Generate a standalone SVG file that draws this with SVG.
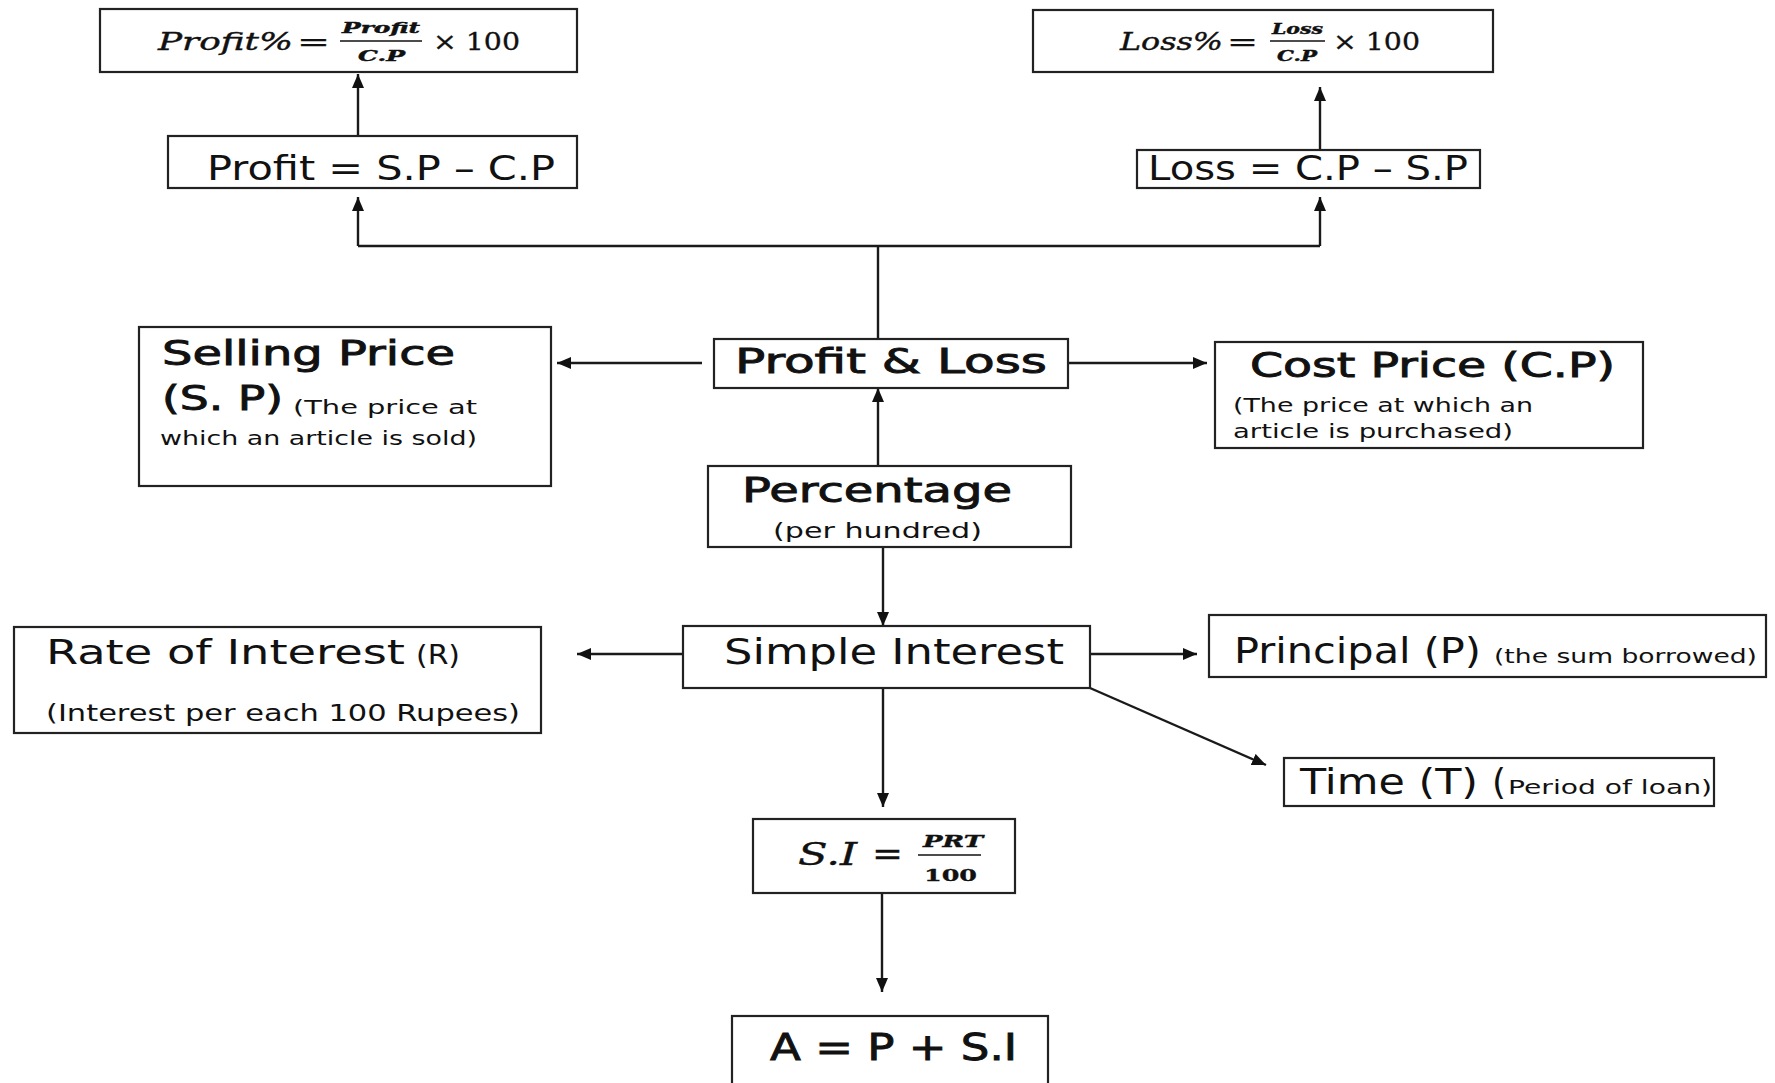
<svg xmlns="http://www.w3.org/2000/svg" width="1775" height="1083" viewBox="0 0 1775 1083">
<style>
  .box{fill:#fff;stroke:#222;stroke-width:2.2}
  .ln{fill:none;stroke:#1a1a1a;stroke-width:2.4}
  .hand{font-family:"DejaVu Sans","Noto Sans",sans-serif;fill:#111}
  .hb{font-family:"DejaVu Sans","Noto Sans",sans-serif;fill:#111;stroke:#111;stroke-width:0.9}
  .mi{font-family:"DejaVu Serif","Liberation Serif",serif;font-style:italic;fill:#111;stroke:#111;stroke-width:0.4}
  .mr{font-family:"DejaVu Serif","Liberation Serif",serif;fill:#111;stroke:#111;stroke-width:0.3}
  .frac{stroke:#111;stroke-width:1.6}
</style>
<defs>
  <marker id="ah" viewBox="0 0 14 12" refX="14" refY="6" markerWidth="14" markerHeight="12" markerUnits="userSpaceOnUse" orient="auto">
    <path d="M0,0 L14,6 L0,12 z" fill="#111"/>
  </marker>
</defs>
<rect width="1775" height="1083" fill="#fff"/>

<g id="connectors">
  <path class="ln" d="M878,339 V246"/>
  <path class="ln" d="M358,246 H1320"/>
  <path class="ln" d="M358,246 V197" marker-end="url(#ah)"/>
  <path class="ln" d="M1320,246 V197" marker-end="url(#ah)"/>
  <path class="ln" d="M358,136 V74" marker-end="url(#ah)"/>
  <path class="ln" d="M1320,150 V87" marker-end="url(#ah)"/>
  <path class="ln" d="M702,363 H557" marker-end="url(#ah)"/>
  <path class="ln" d="M1068,363 H1207" marker-end="url(#ah)"/>
  <path class="ln" d="M878,466 V388" marker-end="url(#ah)"/>
  <path class="ln" d="M883,547 V626" marker-end="url(#ah)"/>
  <path class="ln" d="M683,654 H577" marker-end="url(#ah)"/>
  <path class="ln" d="M1090,654 H1197" marker-end="url(#ah)"/>
  <path class="ln" d="M1090,688 L1266,765" marker-end="url(#ah)"/>
  <path class="ln" d="M883,667 V807" marker-end="url(#ah)"/>
  <path class="ln" d="M882,893 V992" marker-end="url(#ah)"/>
</g>

<g id="profit_pct">
  <rect class="box" x="100" y="9" width="477" height="63"/>
  <text class="mi" x="158" y="50" font-size="25" textLength="135" lengthAdjust="spacingAndGlyphs">Profit%</text>
  <text class="mr" x="297" y="50" font-size="25" textLength="33" lengthAdjust="spacingAndGlyphs">=</text>
  <text class="mi" x="342" y="33" font-size="14" font-weight="bold" textLength="78" lengthAdjust="spacingAndGlyphs">Profit</text>
  <line class="frac" x1="340" y1="41" x2="422" y2="41"/>
  <text class="mi" x="358" y="61" font-size="14" font-weight="bold" textLength="47" lengthAdjust="spacingAndGlyphs">C.P</text>
  <text class="mr" x="433" y="50" font-size="25" textLength="87" lengthAdjust="spacingAndGlyphs">× 100</text>
</g>

<g id="profit_eq">
  <rect class="box" x="168" y="136" width="409" height="52"/>
  <text class="hand" x="207" y="180" font-size="34" textLength="348" lengthAdjust="spacingAndGlyphs">Profit = S.P – C.P</text>
</g>

<g id="loss_pct">
  <rect class="box" x="1033" y="10" width="460" height="62"/>
  <text class="mi" x="1120" y="50" font-size="25" textLength="103" lengthAdjust="spacingAndGlyphs">Loss%</text>
  <text class="mr" x="1227" y="50" font-size="25" textLength="31" lengthAdjust="spacingAndGlyphs">=</text>
  <text class="mi" x="1272" y="34" font-size="14" font-weight="bold" textLength="51" lengthAdjust="spacingAndGlyphs">Loss</text>
  <line class="frac" x1="1270" y1="41" x2="1325" y2="41"/>
  <text class="mi" x="1277" y="61" font-size="14" font-weight="bold" textLength="40" lengthAdjust="spacingAndGlyphs">C.P</text>
  <text class="mr" x="1333" y="50" font-size="25" textLength="87" lengthAdjust="spacingAndGlyphs">× 100</text>
</g>

<g id="loss_eq">
  <rect class="box" x="1137" y="150" width="343" height="38"/>
  <text class="hand" x="1148" y="180" font-size="34" textLength="320" lengthAdjust="spacingAndGlyphs">Loss = C.P – S.P</text>
</g>

<g id="selling_price">
  <rect class="box" x="139" y="327" width="412" height="159"/>
  <text class="hb" x="162" y="365" font-size="34" textLength="293" lengthAdjust="spacingAndGlyphs">Selling Price</text>
  <text class="hb" x="162" y="410" font-size="34" textLength="121" lengthAdjust="spacingAndGlyphs">(S. P)</text>
  <text class="hand" x="293" y="414" font-size="20" textLength="184" lengthAdjust="spacingAndGlyphs">(The price at</text>
  <text class="hand" x="160" y="445" font-size="20" textLength="317" lengthAdjust="spacingAndGlyphs">which an article is sold)</text>
</g>

<g id="profit_loss">
  <rect class="box" x="714" y="339" width="354" height="49"/>
  <text class="hb" x="735" y="373" font-size="34" textLength="312" lengthAdjust="spacingAndGlyphs">Profit &amp; Loss</text>
</g>

<g id="cost_price">
  <rect class="box" x="1215" y="342" width="428" height="106"/>
  <text class="hb" x="1250" y="377" font-size="34" textLength="365" lengthAdjust="spacingAndGlyphs">Cost Price (C.P)</text>
  <text class="hand" x="1233" y="412" font-size="20" textLength="300" lengthAdjust="spacingAndGlyphs">(The price at which an</text>
  <text class="hand" x="1233" y="438" font-size="20" textLength="280" lengthAdjust="spacingAndGlyphs">article is purchased)</text>
</g>

<g id="percentage">
  <rect class="box" x="708" y="466" width="363" height="81"/>
  <text class="hb" x="742" y="502" font-size="34" textLength="270" lengthAdjust="spacingAndGlyphs">Percentage</text>
  <text class="hand" x="773" y="538" font-size="22" textLength="209" lengthAdjust="spacingAndGlyphs">(per hundred)</text>
</g>

<g id="rate">
  <rect class="box" x="14" y="627" width="527" height="106"/>
  <text class="hand" x="46" y="664" font-size="34" textLength="359" lengthAdjust="spacingAndGlyphs">Rate of Interest</text>
  <text class="hand" x="416" y="664" font-size="26" textLength="44" lengthAdjust="spacingAndGlyphs">(R)</text>
  <text class="hand" x="46" y="721" font-size="23" textLength="474" lengthAdjust="spacingAndGlyphs">(Interest per each 100 Rupees)</text>
</g>

<g id="simple_interest">
  <rect class="box" x="683" y="626" width="407" height="62"/>
  <text class="hand" x="724" y="664" font-size="36" textLength="340" lengthAdjust="spacingAndGlyphs">Simple Interest</text>
</g>

<g id="principal">
  <rect class="box" x="1209" y="615" width="557" height="62"/>
  <text class="hand" x="1234" y="663" font-size="36" textLength="247" lengthAdjust="spacingAndGlyphs">Principal (P)</text>
  <text class="hand" x="1494" y="663" font-size="19" textLength="263" lengthAdjust="spacingAndGlyphs">(the sum borrowed)</text>
</g>

<g id="time">
  <rect class="box" x="1284" y="758" width="430" height="48"/>
  <text class="hand" x="1300" y="794" font-size="36" textLength="178" lengthAdjust="spacingAndGlyphs">Time (T)</text>
  <text class="hand" x="1492" y="794" font-size="36" textLength="14" lengthAdjust="spacingAndGlyphs">(</text>
  <text class="hand" x="1508" y="794" font-size="19" textLength="204" lengthAdjust="spacingAndGlyphs">Period of loan)</text>
</g>

<g id="si_formula">
  <rect class="box" x="753" y="819" width="262" height="74"/>
  <text class="mi" x="798" y="865" font-size="32" textLength="59" lengthAdjust="spacingAndGlyphs">S.I</text>
  <text class="mr" x="872" y="865" font-size="32" textLength="31" lengthAdjust="spacingAndGlyphs">=</text>
  <text class="mi" x="923" y="847" font-size="17" font-weight="bold" textLength="60" lengthAdjust="spacingAndGlyphs">PRT</text>
  <line class="frac" x1="918" y1="855" x2="981" y2="855"/>
  <text class="mr" x="924" y="881" font-size="17" font-weight="bold" textLength="53" lengthAdjust="spacingAndGlyphs">100</text>
</g>

<g id="amount">
  <rect class="box" x="732" y="1016" width="316" height="90"/>
  <text class="hb" x="770" y="1060" font-size="37" textLength="247" lengthAdjust="spacingAndGlyphs">A = P + S.I</text>
</g>
</svg>
